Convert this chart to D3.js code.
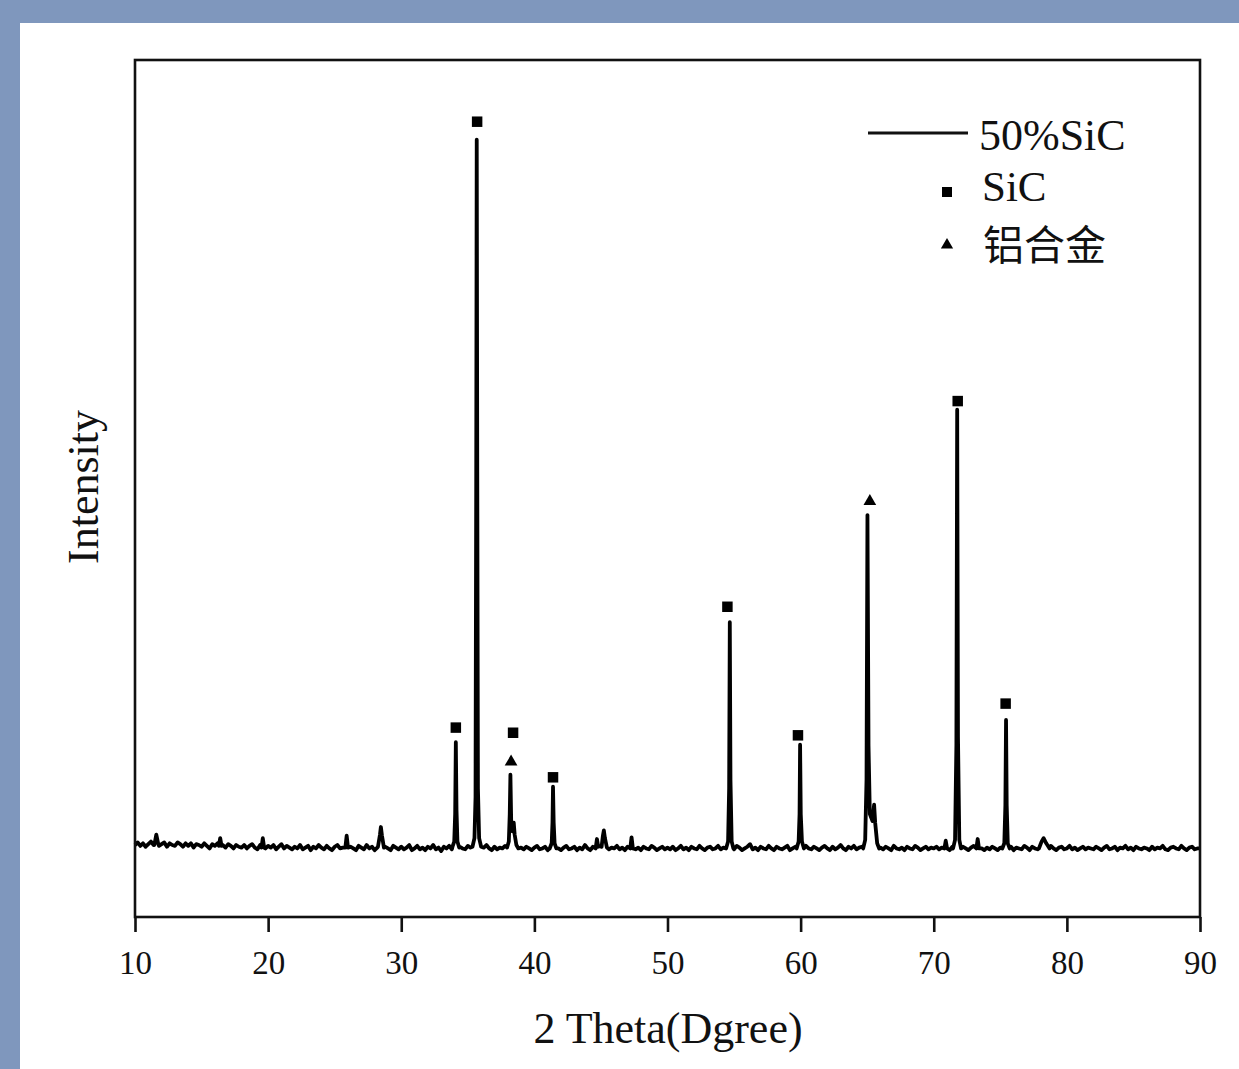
<!DOCTYPE html>
<html>
<head>
<meta charset="utf-8">
<script src="https://cdn.jsdelivr.net/npm/d3@7.9.0/dist/d3.min.js"></script>
<style>
  body { margin: 0; background: #7f97bd; }
  svg { display: block; }
  text { font-family: "Liberation Serif", "Times New Roman", serif; fill: #111; }
  .cjk { font-family: "Noto Sans CJK SC", sans-serif; }
</style>
</head>
<body>
<svg id="chart" width="1239" height="1069"></svg>
<script>
// baseline intensity, one value every 0.2 deg from 10.0 to 90.0
const baseStart = 10, baseStep = 0.2;
const baseline = [
  84, 87, 83, 86, 82, 85, 88, 84, 86, 83, 85, 87, 82, 86, 84, 83, 87, 85, 82, 86,
  83, 86, 81, 85, 84, 82, 86, 83, 80, 85, 83, 86, 82, 84, 81, 85, 83, 80, 84, 82,
  81, 84, 80, 83, 85, 81, 79, 84, 82, 80, 83, 81, 84, 79, 82, 85, 80, 83, 81, 79,
  82, 80, 84, 79, 81, 83, 78, 82, 80, 84, 81, 79, 83, 80, 78, 82, 84, 80, 81, 83,
  79, 82, 80, 78, 83, 81, 79, 84, 80, 82, 78, 81, 83, 79, 82, 80, 78, 83, 81, 79,
  82, 79, 81, 84, 78, 80, 83, 79, 81, 78, 82, 80, 84, 79, 81, 77, 82, 80, 83, 79,
  81, 78, 82, 80, 79, 83, 81, 78, 80, 82, 79, 81, 84, 80, 78, 82, 79, 81, 80, 83,
  79, 82, 80, 78, 83, 81, 79, 82, 80, 78, 81, 83, 79, 80, 82, 78, 81, 79, 83, 80,
  78, 81, 83, 79, 80, 82, 78, 81, 79, 84, 80, 78, 82, 81, 79, 83, 80, 82, 79, 81,
  80, 83, 79, 81, 78, 82, 80, 84, 79, 81, 78, 82, 80, 79, 83, 81, 78, 80, 82, 79,
  81, 79, 82, 78, 80, 83, 79, 81, 78, 82, 80, 79, 83, 80, 78, 81, 82, 79, 80, 83,
  79, 81, 78, 82, 80, 79, 83, 81, 78, 80, 82, 85, 79, 81, 78, 82, 80, 79, 83, 80,
  78, 82, 80, 79, 81, 83, 78, 80, 82, 79, 81, 78, 83, 80, 79, 82, 80, 78, 81, 83,
  80, 78, 82, 79, 81, 84, 80, 78, 82, 80, 83, 79, 81, 82, 84, 80, 83, 81, 79, 82,
  81, 79, 82, 80, 78, 83, 80, 79, 81, 78, 82, 80, 79, 83, 81, 78, 80, 82, 79, 81,
  80, 82, 79, 81, 83, 80, 78, 82, 84, 81, 79, 82, 80, 78, 81, 83, 79, 82, 80, 78,
  81, 79, 82, 80, 78, 81, 83, 79, 80, 82, 78, 81, 80, 79, 83, 81, 78, 82, 80, 79,
  80, 82, 79, 81, 83, 80, 78, 81, 82, 79, 80, 83, 79, 81, 78, 80, 82, 79, 81, 80,
  79, 82, 80, 78, 81, 83, 79, 80, 82, 78, 81, 80, 83, 79, 81, 78, 82, 80, 79, 81,
  80, 78, 82, 79, 81, 80, 83, 79, 78, 81, 82, 80, 79, 83, 80, 78, 81, 82, 79, 80,
  80
];

// diffraction peaks, [2theta, intensity]
const peak34 = [[33.85, 82], [33.98, 88], [34.05, 120], [34.1, 204], [34.15, 125], [34.22, 88], [34.35, 81]];
const peak35 = [[35.35, 82], [35.5, 92], [35.58, 140], [35.63, 500], [35.67, 907], [35.71, 520], [35.76, 150], [35.85, 92], [36.0, 82]];
const peak38 = [[37.95, 81], [38.08, 88], [38.15, 120], [38.2, 166], [38.26, 110], [38.35, 100], [38.45, 110], [38.52, 96], [38.65, 84], [38.8, 80]];
const peak41 = [[41.15, 80], [41.3, 86], [41.36, 110], [41.4, 152], [41.45, 110], [41.52, 86], [41.65, 80]];
const peak54 = [[54.4, 80], [54.55, 88], [54.63, 150], [54.68, 344], [54.73, 160], [54.82, 88], [54.95, 80]];
const peak60 = [[59.7, 80], [59.85, 88], [59.92, 120], [59.96, 201], [60.01, 120], [60.1, 88], [60.25, 80]];
const peak65 = [[64.7, 80], [64.85, 90], [64.95, 160], [65.02, 469], [65.1, 200], [65.2, 120], [65.4, 112], [65.52, 131], [65.6, 110], [65.75, 86], [65.9, 80]];
const peak71 = [[71.45, 80], [71.6, 90], [71.7, 200], [71.76, 592], [71.82, 210], [71.92, 90], [72.05, 80]];
const peak75 = [[75.15, 80], [75.3, 86], [75.38, 130], [75.43, 230], [75.48, 130], [75.56, 86], [75.7, 80]];
// small reflections
const minor11 = [[11.45, 84], [11.6, 96], [11.75, 85]];
const minor16 = [[16.3, 83], [16.4, 92], [16.5, 83]];
const minor19 = [[19.5, 81], [19.6, 92], [19.7, 81]];
const minor25 = [[25.8, 81], [25.9, 95], [26.0, 81]];
const minor28 = [[28.25, 82], [28.4, 96], [28.47, 105], [28.55, 95], [28.7, 81]];
const minor44 = [[44.6, 80], [44.7, 91], [44.8, 82]];
const minor45 = [[45.05, 82], [45.15, 95], [45.22, 101], [45.3, 92], [45.45, 81]];
const minor47 = [[47.2, 80], [47.3, 93], [47.4, 80]];
const minor70 = [[70.8, 80], [70.9, 89], [71.0, 80]];
const minor73 = [[73.2, 80], [73.3, 91], [73.4, 80]];
const minor78 = [[77.9, 80], [78.1, 88], [78.25, 92], [78.45, 86], [78.7, 80]];
const peaks = [peak34, peak35, peak38, peak41, peak54, peak60, peak65, peak71, peak75,
  minor11, minor16, minor19, minor25, minor28, minor44, minor45, minor47, minor70, minor73, minor78];

// phase markers above peaks
const sicMarks = [[34.1, 221], [35.7, 928], [38.4, 215], [41.4, 163], [54.5, 362], [59.8, 212], [71.8, 602], [75.4, 249]];
const alMarks = [[38.25, 181], [65.2, 485]];

const xTicks = [10, 20, 30, 40, 50, 60, 70, 80, 90];

const svg = d3.select('#chart');
const plot = { left: 135, right: 1200, top: 60, bottom: 917 };

// white page over the blue frame
svg.append('rect').attr('x', 20).attr('y', 23).attr('width', 1219).attr('height', 1046).attr('fill', '#fff');

const x = d3.scaleLinear().domain([10, 90]).range([plot.left, plot.right]);
const y = d3.scaleLinear().domain([0, 1000]).range([plot.bottom, plot.top]);

// merge baseline and peaks
let pts = baseline.map((v, i) => [baseStart + i * baseStep, v])
    .filter(p => !peaks.some(pk => p[0] >= pk[0][0] - 0.01 && p[0] <= pk[pk.length - 1][0] + 0.01));
peaks.forEach(pk => pts = pts.concat(pk));
pts.sort((a, b) => a[0] - b[0]);

const line = d3.line().x(d => x(d[0])).y(d => y(d[1]));

svg.append('path')
    .attr('d', line(pts))
    .attr('fill', 'none')
    .attr('stroke', '#000')
    .attr('stroke-width', 3.8)
    .attr('stroke-linejoin', 'round');

// markers
svg.selectAll('.sq').data(sicMarks).join('path')
    .attr('class', 'sq')
    .attr('transform', d => `translate(${x(d[0])},${y(d[1])})`)
    .attr('d', d3.symbol(d3.symbolSquare, 110))
    .attr('fill', '#000');

svg.selectAll('.tri').data(alMarks).join('path')
    .attr('class', 'tri')
    .attr('transform', d => `translate(${x(d[0])},${y(d[1])})`)
    .attr('d', d3.symbol(d3.symbolTriangle, 70))
    .attr('fill', '#000');

// frame
svg.append('rect')
    .attr('x', plot.left).attr('y', plot.top)
    .attr('width', plot.right - plot.left).attr('height', plot.bottom - plot.top)
    .attr('fill', 'none').attr('stroke', '#111').attr('stroke-width', 2.6);

// x axis
const xAxis = svg.append('g')
    .attr('transform', `translate(0,${plot.bottom})`)
    .call(d3.axisBottom(x).tickValues(xTicks).tickSize(15).tickPadding(19).tickFormat(d3.format('d')));
xAxis.select('.domain').remove();
xAxis.selectAll('line').attr('stroke', '#111').attr('stroke-width', 2.6);
xAxis.selectAll('text').style('font-family', '"Liberation Serif", serif').style('font-size', '33px').attr('fill', '#111');

svg.append('text')
    .attr('x', 668).attr('y', 1043)
    .attr('text-anchor', 'middle')
    .style('font-size', '44px')
    .text('2 Theta(Dgree)');

svg.append('text')
    .attr('transform', 'translate(98,487) rotate(-90)')
    .attr('text-anchor', 'middle')
    .style('font-size', '44px')
    .text('Intensity');

// legend
svg.append('line').attr('x1', 868).attr('x2', 968).attr('y1', 133).attr('y2', 133)
    .attr('stroke', '#111').attr('stroke-width', 3);
svg.append('text').attr('x', 979).attr('y', 150).style('font-size', '44px').text('50%SiC');
svg.append('path').attr('transform', 'translate(947,192)')
    .attr('d', d3.symbol(d3.symbolSquare, 100)).attr('fill', '#000');
svg.append('text').attr('x', 982).attr('y', 201).style('font-size', '43px').text('SiC');
svg.append('path').attr('transform', 'translate(947,245)')
    .attr('d', d3.symbol(d3.symbolTriangle, 65)).attr('fill', '#000');
svg.append('text').attr('class', 'cjk').attr('x', 983).attr('y', 260).style('font-size', '41px').text('铝合金');
</script>
</body>
</html>
